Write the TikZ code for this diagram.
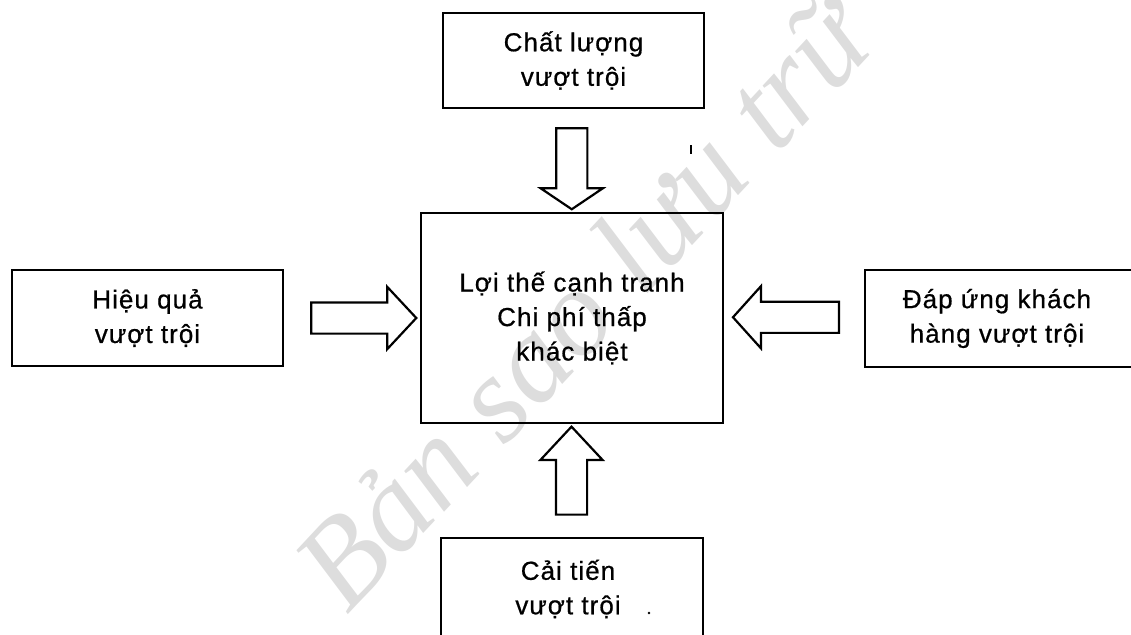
\documentclass[tikz,border=0pt]{standalone}
\usepackage{fontspec}
\setmainfont{Liberation Sans}
\newfontfamily\stampfont{Liberation Serif}
\usetikzlibrary{shapes.arrows,calc}
\definecolor{stampgray}{HTML}{DDDDDD}
\begin{document}
\begin{tikzpicture}[x=1pt,y=-1pt,
  box/.style={draw,line width=2.7pt,inner sep=0pt},
  lbl/.style={align=center,inner sep=0pt,
    font=\fontsize{26}{34.5}\selectfont\addfontfeature{LetterSpace=4,FakeBold=0.7}},
  fatarrow/.style={single arrow,draw,line width=2.2pt,line join=miter,
    inner xsep=0pt,inner ysep=14.5pt,minimum width=0pt,
    single arrow head extend=15.5pt}]
\useasboundingbox (0,0) rectangle (1131,634);
\clip (0,0) rectangle (1131,634);

% faint archive stamp across the page
\node[rotate=47,text=stampgray,
  font=\stampfont\itshape\fontsize{124}{124}\selectfont] (stamp) at (582,302) {Bản sao lưu trữ};

% boxes
\node[box,lbl,minimum width=261pt,minimum height=95pt] (quality) at (573.5,60.5) {Chất lượng\\vượt trội};
\node[box,lbl,minimum width=302pt,minimum height=210pt] (core) at (572,318) {Lợi thế cạnh tranh\\Chi phí thấp\\khác biệt};
\node[box,lbl,minimum width=271pt,minimum height=96pt] (efficiency) at (147.5,318) {Hiệu quả\\vượt trội};
\node[box,minimum width=280pt,minimum height=97pt] (response) at (1005,318.5) {};
\node[lbl] (responsetext) at (997,318.5) {Đáp ứng khách\\hàng vượt trội};
\node[box,minimum width=262pt,minimum height=120pt] (innovation) at (572,598) {};
\node[lbl] (innovationtext) at (568,589) {Cải tiến\\vượt trội};

% block arrows into the central box
\node[fatarrow,rotate=-90,minimum height=81pt,single arrow tip angle=112] (a1)
  at ($(quality.south)!0.5!(core.north)+(-1,3)$) {};
\node[fatarrow,rotate=90,minimum height=88pt,single arrow tip angle=86] (a2)
  at ($(core.south)!0.5!(innovation.north)+(-0.5,-1.5)$) {};
\node[fatarrow,minimum height=105pt,single arrow tip angle=94] (a3)
  at ($(efficiency.east)!0.5!(core.west)+(4.5,0)$) {};
\node[fatarrow,rotate=180,minimum height=106pt,single arrow tip angle=96] (a4)
  at ($(core.east)!0.5!(response.west)+(-1,-1)$) {};

% small specks
\coordinate (speck1) at (691,145);
\draw[line width=1.6pt] (speck1) -- ++(0,9);
\fill (649,613) circle (1.3pt);
\end{tikzpicture}
\end{document}
